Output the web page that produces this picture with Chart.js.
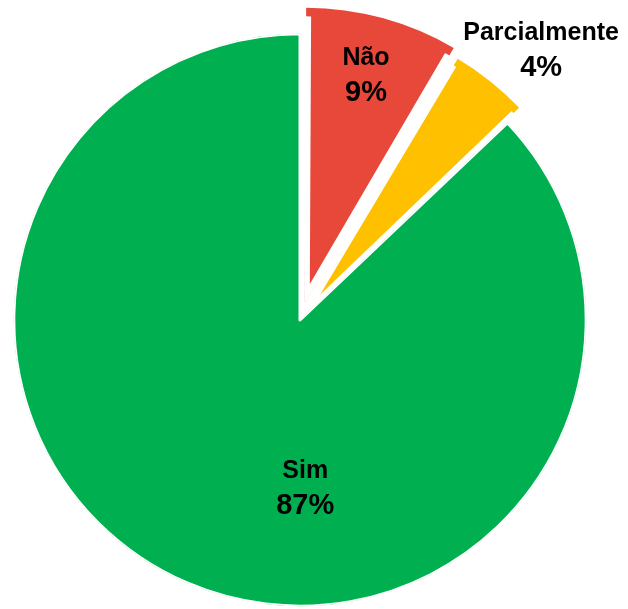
<!DOCTYPE html>
<html>
<head>
<meta charset="utf-8">
<script src="https://cdn.jsdelivr.net/npm/chart.js@4/dist/chart.umd.min.js"></script>
<style>
	html, body { margin: 0; padding: 0; background: #fff; }
	canvas { display: block; }
</style>
</head>
<body>
<canvas id="answer-pie-chart" width="628" height="609"></canvas>
<script>
const categories = ['Não', 'Parcialmente', 'Sim'];
const shares = [8.5, 4.4, 87.1];
const sliceColors = ['#E8483A', '#FFC000', '#00B050'];

// where each label sits: fraction of the radius, and turn from the slice middle (deg)
const labelPlaces = [
	{ r: 0.92, turn: -0.8 },
	{ r: 1.29, turn: 2.2 },
	{ r: 0.553, turn: -25.1 },
];

const sliceLabels = {
	id: 'sliceLabels',
	afterDatasetsDraw(chart) {
		const ctx = chart.ctx;
		const meta = chart.getDatasetMeta(0);
		const total = shares.reduce((a, b) => a + b, 0);

		ctx.save();
		ctx.fillStyle = '#000';
		ctx.textAlign = 'center';
		ctx.textBaseline = 'alphabetic';

		meta.data.forEach((arc, i) => {
			const place = labelPlaces[i];
			const mid = (arc.startAngle + arc.endAngle) / 2 + place.turn * Math.PI / 180;
			const x = arc.x + Math.cos(mid) * arc.outerRadius * place.r;
			const y = arc.y + Math.sin(mid) * arc.outerRadius * place.r;

			ctx.font = 'bold 25px "Liberation Sans", Arial, sans-serif';
			ctx.fillText(categories[i], x, y);
			ctx.font = 'bold 29px "Liberation Sans", Arial, sans-serif';
			ctx.fillText(Math.round(shares[i] / total * 100) + '%', x, y + 36);
		});
		ctx.restore();
	},
};

document.addEventListener('DOMContentLoaded', () => {
	const ctx = document.getElementById('answer-pie-chart');

	new Chart(ctx, {
		type: 'pie',
		data: {
			labels: categories,
			datasets: [
				{
					data: shares,
					backgroundColor: sliceColors,
					borderColor: '#fff',
					borderWidth: [5, 2.8, 1.5],
					borderAlign: 'inner',
					offset: [72, 44, 0],
				},
			],
		},
		options: {
			responsive: false,
			animation: false,
			devicePixelRatio: 1,
			radius: 286.5,
			layout: {
				padding: { left: 0, right: 28, top: 31, bottom: 0 },
			},
			plugins: {
				legend: { display: false },
				tooltip: { enabled: false },
			},
		},
		plugins: [sliceLabels],
	});
});
</script>
</body>
</html>
